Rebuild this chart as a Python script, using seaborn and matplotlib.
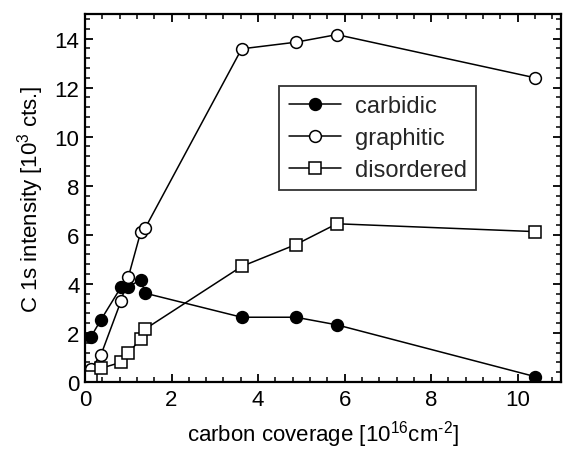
import matplotlib
matplotlib.use("Agg")
import matplotlib.pyplot as plt
import seaborn as sns
import pandas as pd
from matplotlib.ticker import MultipleLocator

sns.set_theme(style="white")
plt.rcParams['font.family'] = ['Liberation Sans', 'DejaVu Sans']
plt.rcParams['mathtext.fontset'] = 'custom'
plt.rcParams['mathtext.rm'] = 'Liberation Sans'
plt.rcParams['mathtext.it'] = 'Liberation Sans'
plt.rcParams['mathtext.bf'] = 'Liberation Sans'

coverage = [0.13, 0.37, 0.83, 1.0, 1.29, 1.39, 3.62, 4.87, 5.82, 10.40]
carbidic = [1.82, 2.54, 3.86, 3.89, 4.16, 3.62, 2.64, 2.64, 2.33, 0.22]
graphitic = [0.53, 1.11, 3.29, 4.27, 6.13, 6.27, 13.58, 13.85, 14.16, 12.40]
disordered = [0.19, 0.56, 0.80, 1.18, 1.76, 2.16, 4.71, 5.60, 6.45, 6.13]
series_names = ["carbidic", "graphitic", "disordered"]

fig = plt.figure(figsize=(5.63, 4.52), dpi=100)
ax = fig.add_axes([85/563, 1 - 383/452, 476/563, 368/452])

styles = {
    "carbidic": dict(marker="o", markerfacecolor="black"),
    "graphitic": dict(marker="o", markerfacecolor="white"),
    "disordered": dict(marker="s", markerfacecolor="white"),
}
for name, vals in zip(series_names, [carbidic, graphitic, disordered]):
    df = pd.DataFrame({"x": coverage, "y": vals})
    sns.lineplot(data=df, x="x", y="y", ax=ax, sort=False, color="black",
                 linewidth=1.1, markersize=8.5, markeredgecolor="black",
                 markeredgewidth=1.1, label=name, **styles[name])

ax.set_xlim(0, 11)
ax.set_ylim(0, 15)
ax.xaxis.set_major_locator(MultipleLocator(2))
ax.xaxis.set_minor_locator(MultipleLocator(0.4))
ax.yaxis.set_major_locator(MultipleLocator(2))
ax.yaxis.set_minor_locator(MultipleLocator(0.4))
ax.tick_params(which="both", direction="in", top=True, right=True,
               bottom=True, left=True, colors="black", labelsize=16)
ax.tick_params(which="major", length=6, width=1.3)
ax.tick_params(which="minor", length=3.5, width=1.1)
ax.tick_params(axis="x", pad=5)
ax.tick_params(axis="y", pad=4)
for s in ax.spines.values():
    s.set_color("black")
    s.set_linewidth(1.6)

ax.set_xlabel("carbon coverage [10$^{16}$cm$^{\u20102}$]", fontsize=16, labelpad=6, color="black")
ax.set_ylabel("C 1s intensity [10$^{3}$ cts.]", fontsize=16, labelpad=6, color="black")

leg = ax.legend(loc="upper left", bbox_to_anchor=(0.408, 0.805), borderaxespad=0,
                fontsize=17, frameon=True, fancybox=False, edgecolor="black",
                handlelength=2.2, handletextpad=0.6, borderpad=0.4, labelspacing=0.42)
leg.get_frame().set_linewidth(1.3)

fig.savefig("out.png", dpi=100)
